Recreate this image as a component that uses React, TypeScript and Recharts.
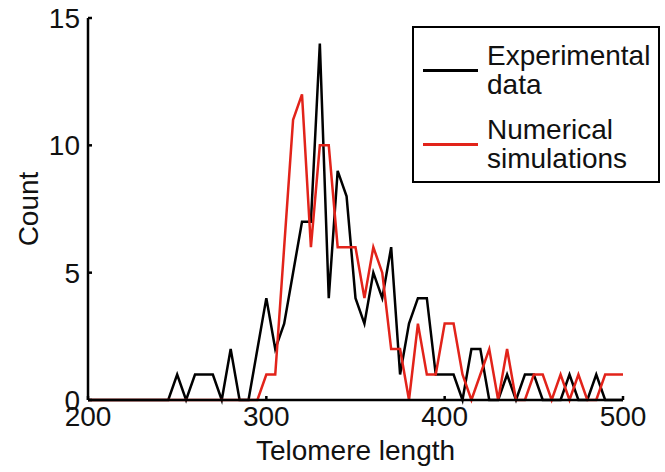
import { LineChart, Line, XAxis, YAxis, Label } from "recharts";

// telomere length bins (step 5)
const lengths = [
    200, 205, 210, 215, 220, 225, 230, 235, 240, 245,
    250, 255, 260, 265, 270, 275, 280, 285, 290, 295,
    300, 305, 310, 315, 320, 325, 330, 335, 340, 345,
    350, 355, 360, 365, 370, 375, 380, 385, 390, 395,
    400, 405, 410, 415, 420, 425, 430, 435, 440, 445,
    450, 455, 460, 465, 470, 475, 480, 485, 490, 495,
    500,
];

const experimentalCounts = [
    0, 0, 0, 0, 0, 0, 0, 0, 0, 0,
    1, 0, 1, 1, 1, 0, 2, 0, 0, 2,
    4, 2, 3, 5, 7, 7, 14, 4, 9, 8,
    4, 3, 5, 4, 6, 1, 3, 4, 4, 1,
    1, 1, 0, 2, 2, 0, 0, 1, 0, 1,
    1, 0, 0, 0, 1, 0, 0, 1, 0, 0,
    0,
];

const simulationCounts = [
    0, 0, 0, 0, 0, 0, 0, 0, 0, 0,
    0, 0, 0, 0, 0, 0, 0, 0, 0, 0,
    1, 1, 6, 11, 12, 6, 10, 10, 6, 6,
    6, 4, 6, 5, 2, 2, 0, 3, 1, 1,
    3, 3, 1, 0, 1, 2, 0, 2, 0, 0,
    1, 1, 0, 1, 0, 1, 0, 0, 1, 1,
    1,
];

const xTicks = [200, 300, 400, 500];
const yTicks = [0, 5, 10, 15];

const legendItems = [
    { lines: ["Experimental", "data"], color: "#000000" },
    { lines: ["Numerical", "simulations"], color: "#e2231a" },
];

const FONT = '"Liberation Sans", Arial, Helvetica, sans-serif';

export default function App() {
    const data = lengths.map((x, i) => ({
        x,
        exp: experimentalCounts[i],
        sim: simulationCounts[i],
    }));

    const tickStyle = { fontSize: 28, fontFamily: FONT, fill: "#111" };
    const axisLine = { stroke: "#000", strokeWidth: 2.5 };

    return (
        <div style={{ position: "absolute", left: 0, top: 0, width: 665, height: 472, background: "#fff" }}>
            <LineChart width={665} height={472} data={data} margin={{ top: 18, right: 42, bottom: 0, left: 0 }}>
                <XAxis
                    dataKey="x"
                    type="number"
                    domain={[200, 500]}
                    ticks={xTicks}
                    tick={tickStyle}
                    tickSize={-4}
                    tickMargin={10}
                    height={72}
                    axisLine={axisLine}
                    tickLine={axisLine}
                    interval={0}
                >
                    <Label
                        value="Telomere length"
                        position="insideBottom"
                        offset={12}
                        style={{ fontSize: 28, fontFamily: FONT, fill: "#111" }}
                    />
                </XAxis>
                <YAxis
                    type="number"
                    domain={[0, 15]}
                    ticks={yTicks}
                    tick={tickStyle}
                    tickSize={-4}
                    tickMargin={12}
                    width={88}
                    axisLine={axisLine}
                    tickLine={axisLine}
                    interval={0}
                >
                    <Label
                        value="Count"
                        angle={-90}
                        position="insideLeft"
                        offset={28}
                        style={{ fontSize: 28, fontFamily: FONT, fill: "#111", textAnchor: "middle" }}
                    />
                </YAxis>
                <Line type="linear" dataKey="exp" stroke="#000000" strokeWidth={2.5} dot={false} isAnimationActive={false} />
                <Line type="linear" dataKey="sim" stroke="#e2231a" strokeWidth={2.5} dot={false} isAnimationActive={false} />
            </LineChart>
            <div
                style={{
                    position: "absolute",
                    left: 412,
                    top: 26,
                    width: 248,
                    height: 157,
                    boxSizing: "border-box",
                    border: "2px solid #000",
                    background: "#fff",
                    paddingTop: 13,
                    fontFamily: FONT,
                    fontSize: 28,
                    color: "#111",
                }}
            >
                {legendItems.map((item, idx) => (
                    <div key={idx} style={{ display: "flex", alignItems: "center", marginBottom: idx === 0 ? 16 : 0 }}>
                        <div style={{ width: 55, height: 0, borderTop: `3px solid ${item.color}`, marginLeft: 9, marginRight: 9 }} />
                        <div style={{ lineHeight: "29px" }}>
                            {item.lines.map((t) => (
                                <div key={t}>{t}</div>
                            ))}
                        </div>
                    </div>
                ))}
            </div>
        </div>
    );
}
